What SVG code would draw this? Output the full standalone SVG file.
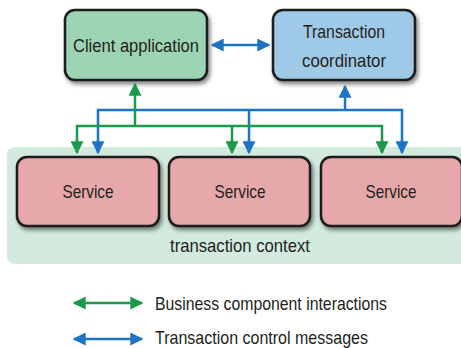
<svg xmlns="http://www.w3.org/2000/svg" width="461" height="348" viewBox="0 0 461 348">
<style>
.box{stroke:#1a1a1a;stroke-width:2.5;filter:url(#sh)}
.t{font-family:"Liberation Sans",Arial,sans-serif;font-size:19px;fill:#231f20;text-anchor:middle}
.lg{font-family:"Liberation Sans",Arial,sans-serif;font-size:19px;fill:#231f20}
.g{stroke:#1b9a4b;stroke-width:2.5;fill:none}
.b{stroke:#1c74c3;stroke-width:2.5;fill:none}
</style>
<defs>
<filter id="sh" x="-10%" y="-10%" width="130%" height="140%">
<feGaussianBlur in="SourceAlpha" stdDeviation="2"/>
<feOffset dx="2" dy="3" result="o"/>
<feComponentTransfer><feFuncA type="linear" slope="0.5"/></feComponentTransfer>
<feMerge><feMergeNode/><feMergeNode in="SourceGraphic"/></feMerge>
</filter>
<marker id="ag" viewBox="0 0 10 10" refX="9" refY="5" markerWidth="5.2" markerHeight="5.2" markerUnits="strokeWidth" orient="auto-start-reverse"><path d="M0,0L10,5L0,10z" fill="#1b9a4b"/></marker>
<marker id="ab" viewBox="0 0 10 10" refX="9" refY="5" markerWidth="5.2" markerHeight="5.2" markerUnits="strokeWidth" orient="auto-start-reverse"><path d="M0,0L10,5L0,10z" fill="#1c74c3"/></marker>
</defs>
<g id="context">
<rect x="7" y="147" width="460" height="117" rx="8" fill="#d3ebdf"/>
<text class="t" x="240" y="252" textLength="140" lengthAdjust="spacingAndGlyphs">transaction context</text>
</g>
<g id="client">
<rect class="box" x="65" y="10" width="142" height="70" rx="10" fill="#9dd4b4"/>
<text class="t" x="136" y="52" textLength="126" lengthAdjust="spacingAndGlyphs">Client application</text>
</g>
<g id="coordinator">
<rect class="box" x="273" y="10" width="142" height="70" rx="10" fill="#9ecae8"/>
<text class="t" x="344" y="38" textLength="82" lengthAdjust="spacingAndGlyphs">Transaction</text>
<text class="t" x="344" y="67" textLength="84" lengthAdjust="spacingAndGlyphs">coordinator</text>
</g>
<g id="service1">
<rect class="box" x="17" y="157" width="142" height="69" rx="10" fill="#e6a8ab"/>
<text class="t" x="88" y="198" textLength="51" lengthAdjust="spacingAndGlyphs">Service</text>
</g>
<g id="service2">
<rect class="box" x="169" y="157" width="141" height="69" rx="10" fill="#e6a8ab"/>
<text class="t" x="240" y="198" textLength="51" lengthAdjust="spacingAndGlyphs">Service</text>
</g>
<g id="service3">
<rect class="box" x="321" y="157" width="141" height="69" rx="10" fill="#e6a8ab"/>
<text class="t" x="391" y="198" textLength="51" lengthAdjust="spacingAndGlyphs">Service</text>
</g>
<g id="connectors">
<line class="b" x1="212" y1="45" x2="269" y2="45" marker-start="url(#ab)" marker-end="url(#ab)"/>
<path class="b" d="M98,152V110H402V152M249,110V152"/>
<line class="b" x1="345" y1="110" x2="345" y2="86" marker-end="url(#ab)"/>
<line class="b" x1="98" y1="140" x2="98" y2="153" marker-end="url(#ab)"/>
<line class="b" x1="249" y1="140" x2="249" y2="153" marker-end="url(#ab)"/>
<line class="b" x1="402" y1="140" x2="402" y2="153" marker-end="url(#ab)"/>
<path class="g" d="M77,152V126H382V152M232,126V152"/>
<line class="g" x1="135" y1="126" x2="135" y2="84" marker-end="url(#ag)"/>
<line class="g" x1="77" y1="140" x2="77" y2="153" marker-end="url(#ag)"/>
<line class="g" x1="232" y1="140" x2="232" y2="153" marker-end="url(#ag)"/>
<line class="g" x1="382" y1="140" x2="382" y2="153" marker-end="url(#ag)"/>
</g>
<g id="legend">
<line class="g" x1="74" y1="303" x2="142" y2="303" marker-start="url(#ag)" marker-end="url(#ag)"/>
<text class="lg" x="155" y="310" textLength="232" lengthAdjust="spacingAndGlyphs">Business component interactions</text>
<line class="b" x1="74" y1="339" x2="142" y2="339" marker-start="url(#ab)" marker-end="url(#ab)"/>
<text class="lg" x="155" y="344" textLength="213" lengthAdjust="spacingAndGlyphs">Transaction control messages</text>
</g>
</svg>
